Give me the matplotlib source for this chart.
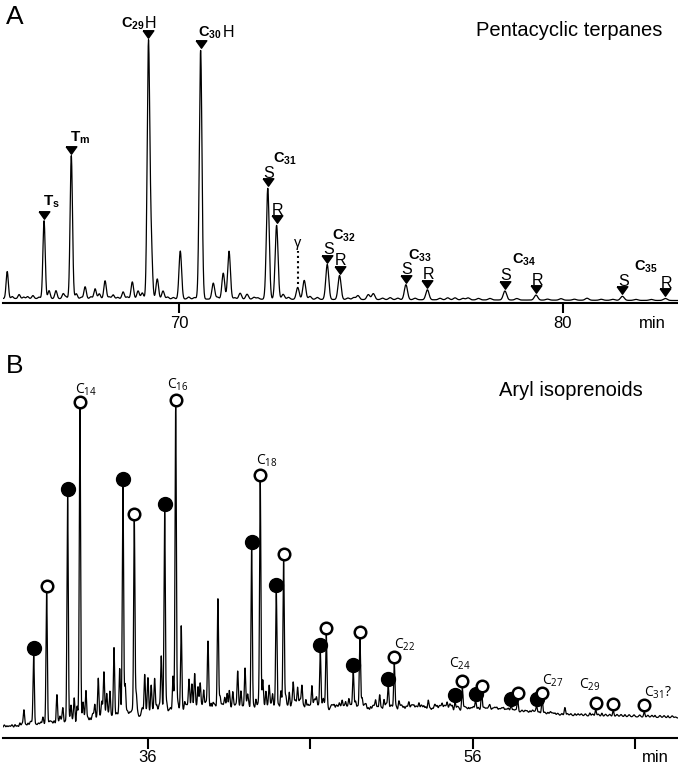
import matplotlib
matplotlib.use('Agg')
import matplotlib.pyplot as plt
import numpy as np

plt.rcParams['font.family'] = ['Liberation Sans', 'DejaVu Sans']
plt.rcParams['mathtext.fontset'] = 'custom'
plt.rcParams['mathtext.rm'] = 'Open Sans'
plt.rcParams['mathtext.bf'] = 'Liberation Sans:bold'

# ---------------- data: panel A (m/z 191, pentacyclic terpanes) ----------------
a_marked_name = ['Ts', 'Tm', 'C29', 'C30', 'C31S', 'C31R', 'C32S', 'C32R',
                 'C33S', 'C33R', 'C34S', 'C34R', 'C35S', 'C35R']
a_marked_time = [66.48, 67.19, 69.20, 70.56, 72.31, 72.54, 73.86, 74.18,
                 75.91, 76.47, 78.49, 79.30, 81.55, 82.67]
a_marked_height = [78, 143, 253, 249, 111, 74, 35, 24, 15, 10, 9, 5, 4, 2]

gamma_time = 73.09   # gammacerane
gamma_height = 12

a_minor_time = [65.52, 65.83, 66.19, 66.61, 66.79, 66.98, 67.32, 67.55, 67.81,
                67.92, 68.07, 68.28, 68.54, 68.78, 68.93, 69.04, 69.27, 69.43,
                69.58, 70.03, 70.89, 71.15, 71.30, 71.59, 71.77, 72.71, 73.26,
                73.41, 74.66, 74.93, 75.06, 77.19, 77.53, 80.63]
a_minor_height = [27, 4, 3, 8, 8, 5, 5, 12, 10, 5, 18, 4, 7, 17, 8, 6, 55, 20,
                  8, 48, 16, 26, 48, 6, 5, 5, 19, 3, 4, 5, 6, 2, 2, 2]

# baseline wiggles
a_grass_time = [65.65, 65.95, 66.05, 66.35, 67.05, 67.45, 67.70, 68.18, 68.40,
                68.65, 69.70, 69.85, 70.25, 70.40, 71.00, 71.45, 71.95, 72.05,
                72.85, 73.60, 74.40, 74.55, 75.30, 75.50, 75.70, 76.15, 76.80,
                77.00, 77.40, 77.80, 78.10, 78.80, 79.60, 79.95, 80.30, 81.00,
                81.30, 81.90, 82.30]
a_grass_height = [2, 1.5, 2, 1.5, 2, 1.5, 2, 2, 1.5, 2, 2, 1.5, 2, 1.5, 2, 1.5,
                  2, 1.5, 2, 2, 1.5, 2, 1.5, 2, 1.5, 1.5, 1.5, 2, 1.5, 1.5, 1.5,
                  1.5, 1, 1.5, 1, 1, 1, 1, 1]

a_base_time = [65.41, 83.0]
a_base_level = [5.0, 3.0]

# ---------------- data: panel B (m/z 133, aryl isoprenoids) ----------------
b_marked_time = [28.96, 29.76, 31.05, 31.81, 34.46, 35.16, 37.03, 37.71, 42.39,
                 42.92, 43.91, 44.36, 46.62, 46.99, 48.65, 49.06, 50.81, 51.18,
                 54.92, 55.37, 56.19, 56.56, 58.37, 58.78, 59.95, 60.29, 63.59,
                 64.67, 66.58]
b_marked_height = [72, 134, 229, 314, 232, 201, 204, 306, 166, 229, 121, 146,
                   60, 76, 36.5, 71, 25, 48, 9, 23, 10, 18, 6, 12, 7.5, 14.7,
                   6.3, 6, 5.4]
b_marked_kind = ['filled', 'open'] * 13 + ['open', 'open', 'open']
b_marked_label = ['', '', '', 'C$_{14}$', '', '', '', 'C$_{16}$', '',
                  'C$_{18}$', '', '', '', '', '', '', '', 'C$_{22}$', '',
                  'C$_{24}$', '', '', '', '', '', 'C$_{27}$', 'C$_{29}$', '',
                  'C$_{31}$?']

b_minor_time = [27.31, 27.81, 28.11, 28.36, 28.61, 29.53, 30.09, 30.39, 30.58,
                30.76, 31.26, 31.46, 31.63, 32.00, 32.18, 32.43, 32.73, 32.94,
                33.15, 33.29, 33.46, 33.66, 33.91, 34.26, 34.60, 34.87, 35.28,
                35.49, 35.80, 36.00, 36.20, 36.41, 36.55, 36.82, 37.17, 37.54,
                37.85, 38.05, 38.26, 38.53, 38.71, 38.88, 39.08, 39.22, 39.43,
                39.70, 39.90, 40.00, 40.31, 40.45, 40.73, 40.89, 41.01, 41.22,
                41.53, 41.73, 41.98, 42.14, 42.65, 43.07, 43.27, 43.47, 43.68,
                44.19, 44.50, 44.71, 44.95, 45.22, 45.49, 45.73, 46.10, 46.39,
                46.80, 47.21, 47.48, 47.79, 47.97, 48.18, 48.38, 48.80, 49.20,
                49.45, 49.72, 50.03, 50.28, 50.54, 51.46, 51.77, 52.08, 52.39,
                52.70, 53.00, 53.27, 53.52, 53.82, 54.13, 54.44, 54.75, 55.76,
                57.07, 57.50, 57.91, 59.23, 59.54, 60.64, 61.08, 61.69, 62.31,
                63.23, 63.97, 65.39, 67.24, 68.04]
b_minor_height = [2, 3, 4.5, 17, 4, 9.5, 3.5, 31.5, 8, 16.5, 19.5, 26, 17.5,
                  20, 33, 6.5, 18.5, 44, 18, 47, 26, 31, 75.5, 52, 34.5, 6,
                  25.5, 4, 44.5, 40.5, 32.5, 37, 10, 60.5, 11, 39.5, 10.5, 89.5,
                  12.5, 33, 29, 38.5, 25, 28, 23, 72, 11, 9.5, 113, 14, 13.5,
                  18, 23, 20, 41, 22.5, 43, 15.5, 13.5, 31.5, 21.5, 26, 18, 21,
                  14, 20.5, 28.5, 23.5, 25, 13, 26.5, 13, 10, 3, 6, 7.5, 10.5,
                  9, 12, 9, 12, 5.5, 5.5, 10.5, 17, 12, 10, 5, 8.5, 5, 8, 5,
                  11, 3, 5, 6.5, 8, 5, 3, 4, 3, 3, 2, 2, 2, 2, 8, 2, 3, 3, 2,
                  2, 2]

# fine noise ("grass") between the resolved peaks
b_grass_time = [27.15, 27.45, 27.62, 27.95, 28.25, 28.48, 28.75, 28.85, 29.10,
                29.25, 29.40, 29.65, 29.90, 30.00, 30.22, 30.50, 30.68, 30.90,
                31.15, 31.38, 31.72, 31.90, 32.08, 32.30, 32.55, 32.63, 32.85,
                33.05, 33.22, 33.38, 33.55, 33.78, 34.05, 34.15, 34.36, 34.52,
                34.70, 34.78, 34.95, 35.05, 35.37, 35.60, 35.68, 35.90, 36.10,
                36.30, 36.48, 36.65, 36.72, 36.92, 37.10, 37.28, 37.40, 37.62,
                37.78, 37.95, 38.15, 38.35, 38.45, 38.62, 38.80, 38.97, 39.15,
                39.32, 39.52, 39.60, 39.80, 40.08, 40.18, 40.38, 40.55, 40.65,
                40.82, 41.10, 41.30, 41.42, 41.62, 41.85, 42.05, 42.22, 42.52,
                42.75, 42.85, 43.15, 43.38, 43.58, 43.80, 44.05, 44.28, 44.42,
                44.60, 44.85, 45.05, 45.12, 45.32, 45.40, 45.60, 45.85, 45.98,
                46.22, 46.30, 46.50, 46.72, 46.88, 47.08, 47.30, 47.40, 47.60,
                47.70, 47.88, 48.08, 48.28, 48.48, 48.58, 48.72, 48.92, 49.12,
                49.30, 49.38, 49.58, 49.85, 49.95, 50.15, 50.40, 50.65, 50.72,
                50.95, 51.05, 51.30, 51.55, 51.65, 51.90, 52.00, 52.20, 52.30,
                52.50, 52.60, 52.82, 52.90, 53.12, 53.38, 53.65, 53.72, 53.95,
                54.05, 54.25, 54.35, 54.58, 54.65, 55.05, 55.15, 55.50, 55.62,
                55.90, 56.05, 56.35, 56.70, 56.85, 57.00, 57.25, 57.38, 57.65,
                57.80, 58.05, 58.20, 58.50, 58.65, 59.05, 59.35, 59.70, 59.85,
                60.10, 60.45, 60.80, 60.95, 61.25, 61.50, 61.85, 62.05, 62.50,
                62.70, 62.95, 63.40, 63.75, 64.20, 64.45, 64.90, 65.15, 65.65,
                65.95, 66.30, 66.80, 67.05, 67.55, 67.80, 68.30, 68.50]
b_grass_height = [3, 2, 3, 2, 4, 3, 5, 4, 3, 4, 5, 3, 4, 5, 6, 4, 6, 5, 7, 6,
                  8, 6, 7, 8, 6, 9, 7, 8, 9, 7, 10, 8, 9, 7, 10, 8, 9, 7, 8,
                  10, 9, 8, 10, 9, 8, 10, 9, 8, 11, 9, 10, 8, 11, 9, 10, 9, 8,
                  11, 9, 10, 8, 10, 9, 11, 9, 10, 9, 10, 8, 9, 10, 8, 9, 8, 9,
                  10, 8, 9, 8, 10, 9, 8, 10, 9, 8, 10, 9, 10, 8, 9, 8, 10, 9,
                  8, 9, 10, 8, 9, 8, 9, 10, 8, 7, 8, 6, 7, 6, 7, 5, 6, 7, 6, 7,
                  5, 6, 7, 6, 5, 6, 5, 6, 5, 6, 5, 6, 5, 6, 5, 6, 5, 6, 5, 4,
                  5, 6, 5, 4, 5, 4, 5, 4, 5, 4, 5, 4, 5, 4, 5, 4, 4, 3, 4, 3,
                  3, 4, 3, 3, 2, 3, 2, 3, 2, 3, 2, 3, 2, 2, 2, 2, 3, 2, 2, 2,
                  3, 2, 2, 2, 2, 2, 2, 2, 2, 2, 2, 2, 2, 2, 2, 2, 2, 2, 2, 2,
                  2, 2, 2, 1]

b_base_time = [27.07, 29.96, 33.04, 35.51, 39.20, 42.28, 45.37, 48.45, 52.76,
               55.22, 57.07, 58.92, 61.39, 65.08, 68.66]
b_base_level = [9.5, 10.5, 12.5, 15.5, 20.5, 22.5, 23.5, 24.5, 25.5, 26.5,
                27.5, 25.5, 22.0, 21.0, 19.5]


def chromatogram(t, base_t, base_y, centers, heights, sigma):
    c = np.asarray(centers)[None, :]
    h = np.asarray(heights)[None, :]
    s = np.asarray(sigma)[None, :]
    peaks = (h * np.exp(-0.5 * ((t[:, None] - c) / s) ** 2)).sum(axis=1)
    return np.interp(t, base_t, base_y) + peaks


W, H = 678, 765
fig = plt.figure(figsize=(W / 100, H / 100), dpi=100)


def fx(px):
    return px / W


def fy(py):
    return 1 - py / H


def style_axis(ax):
    for side in ['top', 'left', 'right']:
        ax.spines[side].set_visible(False)
    ax.spines['bottom'].set_linewidth(1.5)
    ax.set_yticks([])
    ax.tick_params(axis='x', direction='out', width=1.5, labelsize=12)
    ax.patch.set_alpha(0)


# ---------------- panel A ----------------
# y data units are screen pixels above the axis line
axA = fig.add_axes([fx(3), fy(303.5), fx(675), 298.5 / H])
axA.set_xlim(65.41, 83.0)
axA.set_ylim(0, 298.5)
style_axis(axA)
axA.set_xticks([70, 80])
axA.tick_params(axis='x', length=7, pad=2)

ta = np.arange(65.41, 83.0, 0.004)
a_peak_t = np.array(a_marked_time + [gamma_time] + a_minor_time)
a_peak_h = np.array(a_marked_height + [gamma_height] + a_minor_height)
a_all_t = np.concatenate([a_peak_t, a_grass_time])
a_all_h = np.concatenate([a_peak_h, a_grass_height])
a_sigma = 0.028 + 0.0012 * (a_all_t - 65)
ya = chromatogram(ta, a_base_time, a_base_level, a_all_t, a_all_h, a_sigma)
axA.plot(ta, ya, color='black', lw=0.9)

tri = [(-1, 0.7), (1, 0.7), (0, -0.7), (-1, 0.7)]
a_apex = np.interp(a_marked_time, ta, ya)
a_tri_y = a_apex + 6
axA.plot(a_marked_time, a_tri_y, ls='none', marker=tri, ms=7.7, color='black')

# (text, size, ha, dx, dy) relative to triangle centre, in pixels
a_text = {
    'Ts': [(r'$\mathbf{T_s}$', 11, 'left', -1.5, 9.5)],
    'Tm': [(r'$\mathbf{T_m}$', 11, 'left', -1.5, 8.5)],
    'C29': [(r'$\mathbf{C_{29}}$', 10.5, 'right', -4, 7), ('H', 11.5, 'left', -4, 6.7)],
    'C30': [(r'$\mathbf{C_{30}}$', 10.5, 'left', -2.5, 8), ('H', 11.5, 'left', 22, 7)],
    'C31S': [('S', 11.5, 'center', 1, 4.5), (r'$\mathbf{C_{31}}$', 10.5, 'left', 5, 20)],
    'C31R': [('R', 11.5, 'center', 1, 4.5)],
    'C32S': [('S', 11.5, 'center', 1, 4.5), (r'$\mathbf{C_{32}}$', 10.5, 'left', 5, 19)],
    'C32R': [('R', 11.5, 'center', 1, 4.5)],
    'C33S': [('S', 11.5, 'center', 1, 4.5), (r'$\mathbf{C_{33}}$', 10.5, 'left', 2, 19)],
    'C33R': [('R', 11.5, 'center', 1, 4.5)],
    'C34S': [('S', 11.5, 'center', 1, 4.5), (r'$\mathbf{C_{34}}$', 10.5, 'left', 6.7, 21)],
    'C34R': [('R', 11.5, 'center', 1, 4.5)],
    'C35S': [('S', 11.5, 'center', 1, 4.5), (r'$\mathbf{C_{35}}$', 10.5, 'left', 11.7, 20)],
    'C35R': [('R', 11.5, 'center', 1, 4.5)],
}
for name, t0, y0 in zip(a_marked_name, a_marked_time, a_tri_y):
    for s, size, ha, dx, dy in a_text[name]:
        axA.annotate(s, (t0, y0), xytext=(dx, dy), textcoords='offset pixels',
                     ha=ha, va='baseline', fontsize=size)

g_apex = np.interp(gamma_time, ta, ya)
axA.plot([gamma_time, gamma_time], [g_apex + 3, g_apex + 36], color='black',
         lw=1.5, ls=(0, (1, 1.5)))
axA.annotate('γ', (gamma_time, g_apex + 36), xytext=(0, 1),
             textcoords='offset pixels', ha='center', va='bottom', fontsize=10.5)

fig.text(fx(6), fy(17), 'A', fontsize=19, ha='left', va='center')
fig.text(fx(662), fy(30), 'Pentacyclic terpanes', fontsize=14.5, ha='right', va='center')
fig.text(fx(652), fy(323), 'min', fontsize=12, ha='center', va='center')

# ---------------- panel B ----------------
axB = fig.add_axes([fx(3), fy(737.5), fx(675), 397.5 / H])
axB.set_xlim(27.07, 68.66)
axB.set_ylim(0, 397.5)
style_axis(axB)
axB.set_xticks([36, 46, 56, 66])
axB.set_xticklabels(['36', '', '56', ''])
axB.tick_params(axis='x', length=8, pad=1)

tb = np.arange(27.07, 68.66, 0.004)
b_peak_t = np.array(b_marked_time + b_minor_time)
b_peak_h = np.array(b_marked_height + b_minor_height)
b_all_t = np.concatenate([b_peak_t, b_grass_time])
b_all_h = np.concatenate([b_peak_h, b_grass_height])
b_sigma = np.concatenate([np.full(b_peak_t.size, 0.04),
                          np.full(len(b_grass_time), 0.055)])
yb = chromatogram(tb, b_base_time, b_base_level, b_all_t, b_all_h, b_sigma)
axB.plot(tb, yb, color='black', lw=0.9)

b_apex = np.interp(b_marked_time, tb, yb)
b_circ_y = b_apex + 6.5
kind = np.array(b_marked_kind)
bt = np.array(b_marked_time)
filled = kind == 'filled'
axB.plot(bt[filled], b_circ_y[filled], ls='none', marker='o', ms=10,
         color='black', zorder=3)
axB.plot(bt[~filled], b_circ_y[~filled], ls='none', marker='o', ms=8.3,
         mfc='white', mec='black', mew=1.8, zorder=4)

b_label_off = {'C$_{14}$': (-4.7, 8.3), 'C$_{16}$': (-8.6, 11),
               'C$_{18}$': (-4.3, 10.7), 'C$_{22}$': (0, 8.4),
               'C$_{24}$': (-13.7, 13.7), 'C$_{27}$': (-0.6, 8.3),
               'C$_{29}$': (-16.6, 14.3), 'C$_{31}$?': (-0.7, 8.3)}
for lab, t0, y0 in zip(b_marked_label, bt, b_circ_y):
    if lab:
        dx, dy = b_label_off[lab]
        axB.annotate(lab, (t0, y0), xytext=(dx, dy), textcoords='offset pixels',
                     ha='left', va='baseline', fontsize=10, family='Open Sans',
                     zorder=5)

fig.text(fx(6), fy(366), 'B', fontsize=19, ha='left', va='center')
fig.text(fx(643), fy(390), 'Aryl isoprenoids', fontsize=14.5, ha='right', va='center')
fig.text(fx(655), fy(757), 'min', fontsize=12, ha='center', va='center')

fig.savefig('out.png', dpi=100)
